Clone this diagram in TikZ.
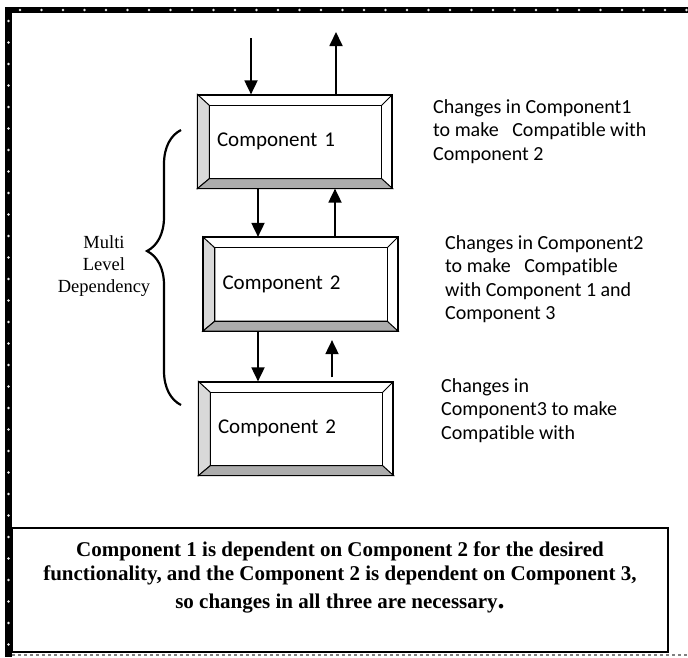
\documentclass[tikz,border=0pt]{standalone}
\usepackage{fontspec}
\setmainfont{Liberation Serif}
\newfontfamily\calibri[Ligatures=NoCommon]{Carlito}
\usepackage{xcolor}
\usetikzlibrary{arrows.meta,positioning,calc,decorations.pathreplacing}

\begin{document}
\begin{tikzpicture}[x=1pt, y=-1pt,
    compbox/.style={draw, line width=1.2pt, fill=white, minimum width=194pt, minimum height=93pt,
        inner sep=0pt, text width=156pt, align=left, font=\calibri\fontsize{21}{24}\selectfont},
    sidenote/.style={anchor=north west, inner sep=0pt, align=left, font=\calibri\fontsize{20}{23.5}\selectfont},
    arr/.style={line width=1.8pt, -{Triangle[length=14pt,width=13pt]}}]
    \useasboundingbox (0,0) rectangle (688,657);

    % Page border
    \fill[black] (5,7) rectangle (688,13);
    \fill[black] (5,7) rectangle (12,657);
    \foreach \x in {20,41.5,...,688} \fill[white!85!gray] (\x,10) circle (1.3);
    \foreach \y in {21,42.5,...,657} \fill[white!85!gray] (8.5,\y) circle (1.3);
    \draw[gray, dashed, line width=1.5pt] (12,655) -- (688,655);

    % Component boxes
    \node[compbox] (c1) at (295,141.5) {Component 1};
    \node[compbox] (c2) at (300.5,284) {Component 2};
    \node[compbox] (c3) at (296,428.5) {Component 2};

    % Bevels
    \foreach \c in {c1,c2,c3} {
        \filldraw[fill=gray!30, line width=1pt] (\c.north west) -- ($(\c.north west)+(12,11)$)
            -- ($(\c.south west)+(12,-10)$) -- (\c.south west) -- cycle;
        \filldraw[fill=gray!65, line width=1pt] (\c.south west) -- ($(\c.south west)+(12,-10)$)
            -- ($(\c.south east)+(-11,-10)$) -- (\c.south east) -- cycle;
        \draw[line width=1pt] ($(\c.north west)+(12,11)$) rectangle ($(\c.south east)+(-11,-10)$);
        \draw[line width=1pt] (\c.north east) -- ($(\c.north east)+(-11,11)$);
        \draw[line width=1.2pt] (\c.north west) rectangle (\c.south east);
    }

    % Arrows
    \coordinate (in1) at (251,38);
    \coordinate (out1) at (336,32);
    \draw[arr] (in1) -- (in1 |- c1.north);
    \draw[arr] (out1 |- c1.north) -- (out1);
    \draw[arr] ([xshift=-37pt]c1.south) -- ([xshift=-42.5pt]c2.north);
    \draw[arr] ([xshift=34.5pt]c2.north) -- ([xshift=40pt]c1.south);
    \draw[arr] ([xshift=-42.5pt]c2.south) -- ([xshift=-38pt]c3.north);
    \draw[arr] ([xshift=36pt,yshift=4pt]c3.north) -- ([xshift=31.5pt,yshift=-9pt]c2.south);

    % Notes on the right
    \node[sidenote] (n1) at (433,99) {Changes in Component1\\to make\ \ \ Compatible with\\Component 2};
    \node[sidenote] (n2) at (445,235) {Changes in Component2\\to make\ \ \ Compatible\\with Component 1 and\\Component 3};
    \node[sidenote] (n3) at (441,378) {Changes in\\Component3 to make\\Compatible with};

    % Brace
    \draw[line width=2.2pt, decorate, decoration={brace, amplitude=34pt, aspect=0.56}] (181,405) -- (181,130);
    \node[align=center, font=\fontsize{18.5}{22}\selectfont] (dep) at (104,266) {Multi\\Level\\Dependency};

    % Summary box
    \node[draw, line width=1.5pt, minimum width=656pt, minimum height=124pt, inner sep=0pt] (note) at (340,590) {};
    \node[align=center, font=\bfseries\fontsize{21}{24}\selectfont] (notetext) at (340,577)
        {Component 1 is dependent on Component 2 for the desired\\functionality, and the Component 2 is dependent on Component 3,\\[4pt]so changes in all three are necessary{\fontsize{28}{24}\selectfont.}};
\end{tikzpicture}
\end{document}
